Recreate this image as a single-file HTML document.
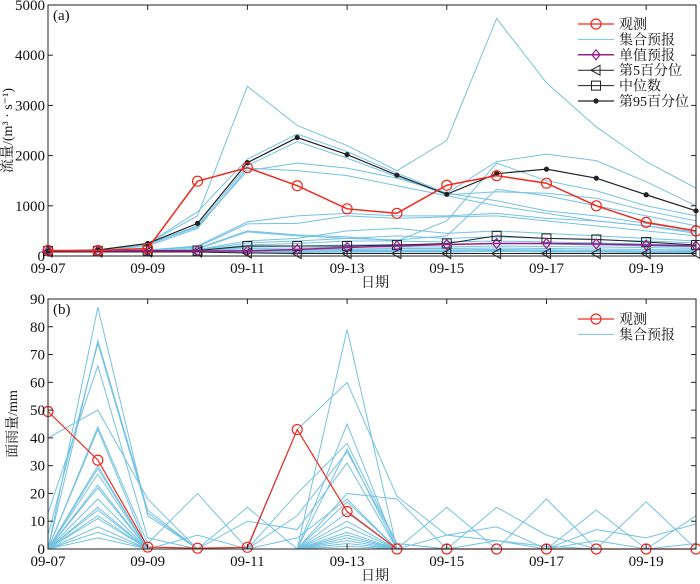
<!DOCTYPE html>
<html><head><meta charset="utf-8"><style>
body{margin:0;background:#fff}
svg{display:block;font-family:"Liberation Serif","Noto Serif CJK SC",serif}
</style></head><body>
<svg id="c" width="700" height="584"></svg>
<script>
const dates=["09-07","09-08","09-09","09-10","09-11","09-12","09-13","09-14","09-15","09-16","09-17","09-18","09-19","09-20"];
const xTickLabels=["09-07","09-09","09-11","09-13","09-15","09-17","09-19"];
const flowTicks=[0,1000,2000,3000,4000,5000];
const rainTicks=[0,10,20,30,40,50,60,70,80,90];
const flowObs=[110,110,150,1490,1760,1400,940,850,1410,1600,1450,1000,670,500];
const flowP95=[100,120,250,650,1860,2360,2020,1610,1230,1640,1730,1550,1220,900];
const flowMed=[100,100,110,110,200,200,200,220,250,400,350,330,280,220];
const flowP5=[80,80,80,80,60,50,50,50,50,50,50,50,50,50];
const flowSingle=[100,100,100,100,100,130,170,200,230,250,250,240,220,200];
const flowEns=[
[100,100,250,800,3380,2600,2200,1700,2300,4730,3450,2570,1880,1350],
[100,100,250,880,1930,2430,2080,1650,1250,1880,2030,1900,1480,1000],
[100,100,240,600,1800,2280,1950,1580,1220,1280,1250,1150,900,700],
[100,100,230,580,1700,1850,1750,1550,1250,1100,900,800,650,500],
[100,100,200,550,1750,1700,1600,1400,1200,1000,850,700,600,480],
[100,100,120,200,680,800,850,800,800,850,750,700,600,450],
[100,100,120,180,640,650,800,750,780,800,700,600,500,400],
[100,100,110,150,500,420,380,300,700,1850,1500,1300,1000,800],
[100,100,110,140,480,400,350,320,400,1330,1200,1000,800,600],
[100,100,100,130,300,350,500,550,450,500,450,400,350,300],
[100,100,100,120,260,300,350,400,350,380,350,320,300,260],
[100,100,100,110,220,250,300,300,280,300,280,260,240,220],
[100,100,100,100,180,200,220,230,220,260,240,220,200,180],
[100,100,90,100,150,160,180,180,180,200,190,180,170,150],
[100,100,90,90,120,130,140,150,150,160,150,140,130,120],
[100,100,90,90,100,110,120,120,120,130,120,110,100,100],
[100,100,80,80,90,90,100,100,100,110,100,90,90,80],
[100,100,80,80,70,70,80,80,80,90,80,80,70,70]];
const rainObs=[49.5,32,0.7,0.3,0.6,43,13.5,0,0,0,0,0,0,0];
const rainEns=[
[0,87,12,0,0,0,79,0,0,0,0,0,0,0],
[0,75,14,0,0,0,45,0,0,0,0,0,0,0],
[5,74,13,0,0,43,60,19,5,3,1,0,0,0],
[13,66,4,0,0,20,38,2,0,0,0,0,0,0],
[40,50,18,0,15,0,36,0,0,0,18,0,0,0],
[0,44,2,20,0,12,35,2,0,0,0,14,0,0],
[0,43,0,0,10,7,31,0,15,0,0,0,17,0],
[0,30,0,0,0,0,20,18,0,15,5,0,0,12],
[0,29,0,5,0,4,18,0,5,8,0,7,4,9],
[0,27,0,0,0,0,17,0,0,3,0,3,0,2],
[0,23,0,0,0,0,13,0,0,0,0,0,0,0],
[0,22,0,0,0,0,10,0,0,0,0,0,0,0],
[0,18,0,0,0,0,8,0,0,0,0,0,0,0],
[0,15,0,0,0,0,6,0,0,0,0,0,0,0],
[0,14,0,0,0,0,5,0,0,0,0,0,0,0],
[0,12,0,0,0,0,4,0,0,0,0,0,0,0],
[0,11,0,0,0,0,3,0,0,0,0,0,0,0],
[0,8,0,0,0,0,2,0,0,0,0,0,0,0],
[0,6,0,0,0,0,1,0,0,0,0,0,0,0],
[0,4,0,0,0,0,0,0,0,0,0,0,0,0]];

const NS="http://www.w3.org/2000/svg";
const svg=document.getElementById('c');
const X0=48,X1=696;
function xs(i){return X0+(X1-X0)*i/(dates.length-1);}
function mk(tag,attrs,parent){const e=document.createElementNS(NS,tag);for(const k in attrs)e.setAttribute(k,attrs[k]);(parent||svg).appendChild(e);return e;}
function txt(s,x,y,anchor,parent,size){const t=mk('text',{x:x,y:y,'text-anchor':anchor||'middle','font-size':size||14,fill:'#111'},parent);t.textContent=s;return t;}

function panel(cfg){
  const g=mk('g',{});
  
  
  const ys=v=>cfg.yb-(cfg.yb-cfg.yt)*v/cfg.max;
  cfg.ens.forEach((s,k)=>{
    const p=mk('polyline',{points:s.map((v,i)=>xs(i)+','+ys(v)).join(' '),fill:'none',stroke:'#74c2e1','stroke-width':1},g);
    
    
  });
  cfg.series.forEach(se=>{
    const sg=mk('g',{},g);
    
    
    mk('polyline',{points:se.data.map((v,i)=>xs(i)+','+ys(v)).join(' '),fill:'none',stroke:se.color,'stroke-width':se.w||1.2},sg);
    se.data.forEach((v,i)=>marker(se.marker,xs(i),ys(v),se.color,sg));
  });
  const f=mk('rect',{x:X0,y:cfg.yt,width:X1-X0,height:cfg.yb-cfg.yt,fill:'none',stroke:'#222','stroke-width':1},g);
  
  
  cfg.ticks.forEach(t=>{
    const y=ys(t);
    mk('line',{x1:X0,y1:y,x2:X0+5,y2:y,stroke:'#222'},g);
    mk('line',{x1:X1,y1:y,x2:X1-5,y2:y,stroke:'#222'},g);
    const l=txt(String(t),X0-3,y+5,'end',g,15);
    
    
  });
  xTickLabels.forEach(s=>{
    const x=xs(dates.indexOf(s));
    mk('line',{x1:x,y1:cfg.yb,x2:x,y2:cfg.yb-5,stroke:'#222'},g);
    mk('line',{x1:x,y1:cfg.yt,x2:x,y2:cfg.yt+5,stroke:'#222'},g);
    const l=txt(s,x,cfg.yb+17,'middle',g,15);
    
    
  });
  const xt=txt('日期',375,cfg.yb+31,'middle',g,14);
  
  
  const yt=txt(cfg.ytitle,0,0,'middle',g,14);
  yt.setAttribute('transform','translate('+cfg.ytx+','+((cfg.yt+cfg.yb)/2)+') rotate(-90)');
  
  
  const pl=txt(cfg.label,53,cfg.yt+15,'start',g,15);
  
  
  const lg=mk('g',{},g);
  
  
  cfg.legend.forEach((e,k)=>{
    const y=cfg.ly+k*15.4;
    const eg=mk('g',{},lg);
    
    
    mk('line',{x1:578,y1:y,x2:614,y2:y,stroke:e.color,'stroke-width':e.w||1.2},eg);
    if(e.marker)marker(e.marker,596,y,e.color,eg);
    txt(e.text,619,y+5,'start',eg,14);
  });
}
function marker(m,x,y,c,p){
  if(m==='o')mk('circle',{cx:x,cy:y,r:5,fill:'none',stroke:c,'stroke-width':1.2},p);
  else if(m==='d')mk('polygon',{points:`${x},${y-5} ${x+4},${y} ${x},${y+5} ${x-4},${y}`,fill:'none',stroke:c,'stroke-width':1.2},p);
  else if(m==='<')mk('polygon',{points:`${x-5},${y} ${x+4},${y-5} ${x+4},${y+5}`,fill:'none',stroke:c,'stroke-width':1},p);
  else if(m==='s')mk('rect',{x:x-4.5,y:y-4.5,width:9,height:9,fill:'none',stroke:c,'stroke-width':1},p);
  else if(m==='.')mk('circle',{cx:x,cy:y,r:2.6,fill:c},p);
}
panel({name:'flow-panel',yt:5,yb:256,max:5000,ticks:flowTicks,ens:flowEns,label:'(a)',ytitle:'流量/(m³ · s⁻¹)',ytx:12,ly:24,
 series:[
  {name:'p5-series',data:flowP5,color:'#222',marker:'<',w:1},
  {name:'median-series',data:flowMed,color:'#222',marker:'s',w:1},
  {name:'single-forecast-series',data:flowSingle,color:'#9b1d8c',marker:'d',w:1.5},
  {name:'p95-series',data:flowP95,color:'#222',marker:'.',w:1.2},
  {name:'observed-series',data:flowObs,color:'#ee2a1e',marker:'o',w:1.5}],
 legend:[{text:'观测',color:'#ee2a1e',marker:'o'},{text:'集合预报',color:'#74c2e1',w:1},{text:'单值预报',color:'#9b1d8c',marker:'d',w:1.5},{text:'第5百分位',color:'#222',marker:'<',w:1},{text:'中位数',color:'#222',marker:'s',w:1},{text:'第95百分位',color:'#222',marker:'.'}]});
panel({name:'rain-panel',yt:299,yb:549,max:90,ticks:rainTicks,ens:rainEns,label:'(b)',ytitle:'面雨量/mm',ytx:17,ly:319,
 series:[{name:'observed-rain-series',data:rainObs,color:'#ee2a1e',marker:'o',w:1.2}],
 legend:[{text:'观测',color:'#ee2a1e',marker:'o'},{text:'集合预报',color:'#74c2e1',w:1}]});
</script>
</body></html>
